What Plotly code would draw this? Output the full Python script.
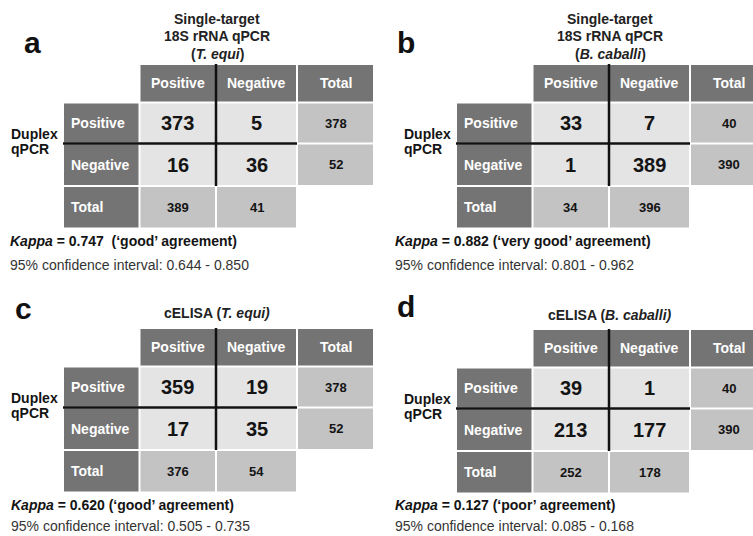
import plotly.graph_objects as go

W, H = 753, 536
FONT = "Liberation Sans, Arial, sans-serif"

# ---- content -------------------------------------------------------------
panel_letters = ["a", "b", "c", "d"]
title_lines = [
    ["Single-target", "18S rRNA qPCR", "(<i>T. equi</i>)"],
    ["Single-target", "18S rRNA qPCR", "(<i>B. caballi</i>)"],
    ["cELISA (<i>T. equi)</i>"],
    ["cELISA (<i>B. caballi)</i>"],
]
col_labels = ["Positive", "Negative", "Total"]
row_labels = ["Positive", "Negative", "Total"]
row_title = ["Duplex", "qPCR"]

# 2x2 counts: rows = duplex qPCR (pos, neg), cols = comparison test (pos, neg)
counts = [
    [[373, 5], [16, 36]],
    [[33, 7], [1, 389]],
    [[359, 19], [17, 35]],
    [[39, 1], [213, 177]],
]
kappa = ["0.747", "0.882", "0.620", "0.127"]
agreement = ["good", "very good", "good", "poor"]
kappa_gap = ["\u00a0 ", " ", " ", " "]
ci_low = ["0.644", "0.801", "0.505", "0.085"]
ci_high = ["0.850", "0.962", "0.735", "0.168"]

# ---- layout --------------------------------------------------------------
panel_x0 = [0, 393, 0, 393]
panel_y0 = [0, 0, 264, 265]
letter_xy = [(32, 42.5), (406, 42.5), (23, 308.5), (406, 306.5)]
title_y = [[18.5, 36, 53.5], [18.5, 36, 53.5], [49], [50]]
note_x = [8, 393, 9, 393]
kappa_y = [241, 241, 505, 505]
ci_y = [265, 265, 526, 526]

col_edges = [63, 139.5, 216, 297, 374]
row_edges = [64, 102.5, 143.5, 186, 228.5]
gap = 1.0

DARK = "#747474"
LIGHT = "#e4e4e4"
MID = "#c3c3c3"
INK = "#141414"

shapes = []
annotations = []


def ann(x, y, text, size, color=INK, xanchor="center"):
    annotations.append(dict(
        x=x, y=y, xref="x", yref="y", text=text, showarrow=False,
        xanchor=xanchor, yanchor="middle",
        font=dict(family=FONT, size=size, color=color),
    ))


for p in range(4):
    x0, y0 = panel_x0[p], panel_y0[p]
    cx = [x0 + (col_edges[i] + col_edges[i + 1]) / 2 for i in range(4)]
    cy = [y0 + (row_edges[j] + row_edges[j + 1]) / 2 for j in range(4)]
    tab = counts[p]
    row_tot = [sum(r) for r in tab]
    col_tot = [tab[0][c] + tab[1][c] for c in range(2)]

    for r in range(4):
        for c in range(4):
            if (r == 0 and c == 0) or (r == 3 and c == 3):
                continue
            if r == 0 or c == 0:
                fill = DARK
            elif r < 3 and c < 3:
                fill = LIGHT
            else:
                fill = MID
            shapes.append(dict(
                type="rect", xref="x", yref="y", layer="below",
                x0=x0 + col_edges[c] + gap, x1=x0 + col_edges[c + 1] - gap,
                y0=y0 + row_edges[r] + gap, y1=y0 + row_edges[r + 1] - gap,
                fillcolor=fill, line=dict(width=0),
            ))

    # dividing lines of the 2x2 core
    shapes.append(dict(type="line", xref="x", yref="y",
                       x0=x0 + col_edges[2], x1=x0 + col_edges[2],
                       y0=y0 + row_edges[0], y1=y0 + row_edges[3],
                       line=dict(color="#111111", width=2.5)))
    shapes.append(dict(type="line", xref="x", yref="y",
                       x0=x0 + col_edges[0], x1=x0 + col_edges[3],
                       y0=y0 + row_edges[2], y1=y0 + row_edges[2],
                       line=dict(color="#111111", width=2.5)))

    # headers
    for c, lab in enumerate(col_labels):
        ann(cx[c + 1], cy[0], f"<b>{lab}</b>", 14, "white")
    for r, lab in enumerate(row_labels):
        ann(x0 + col_edges[0] + 6, cy[r + 1], f"<b>{lab}</b>", 14, "white", "left")

    # counts and totals
    for r in range(2):
        for c in range(2):
            ann(cx[c + 1], cy[r + 1], f"<b>{tab[r][c]}</b>", 20)
        ann(cx[3], cy[r + 1], f"<b>{row_tot[r]}</b>", 13)
    for c in range(2):
        ann(cx[c + 1], cy[3], f"<b>{col_tot[c]}</b>", 13)

    # row title
    ann(x0 + 8.5, y0 + 133.5, f"<b>{row_title[0]}</b>", 14, INK, "left")
    ann(x0 + 8.5, y0 + 148.5, f"<b>{row_title[1]}</b>", 14, INK, "left")

    # column title
    tcx = (cx[1] + cx[2]) / 2
    for line, ty in zip(title_lines[p], title_y[p]):
        ann(tcx, y0 + ty, f"<b>{line}</b>", 14, "#222222")

    # panel letter
    lx, ly = letter_xy[p]
    ann(lx, ly, f"<b>{panel_letters[p]}</b>", 30, "#111111")

    # agreement statistics
    ann(note_x[p], kappa_y[p],
        f"<b><i>Kappa</i> = {kappa[p]}{kappa_gap[p]}(\u2018{agreement[p]}\u2019 agreement)</b>",
        14, INK, "left")
    ann(note_x[p], ci_y[p],
        f"95% confidence interval: {ci_low[p]} - {ci_high[p]}",
        14, "#333333", "left")

fig = go.Figure()
fig.update_layout(
    width=W, height=H,
    margin=dict(l=0, r=0, t=0, b=0),
    paper_bgcolor="white", plot_bgcolor="white",
    xaxis=dict(range=[0, W], visible=False, fixedrange=True),
    yaxis=dict(range=[H, 0], visible=False, fixedrange=True),
    shapes=shapes, annotations=annotations,
    showlegend=False,
)
fig.write_html("out.html")
